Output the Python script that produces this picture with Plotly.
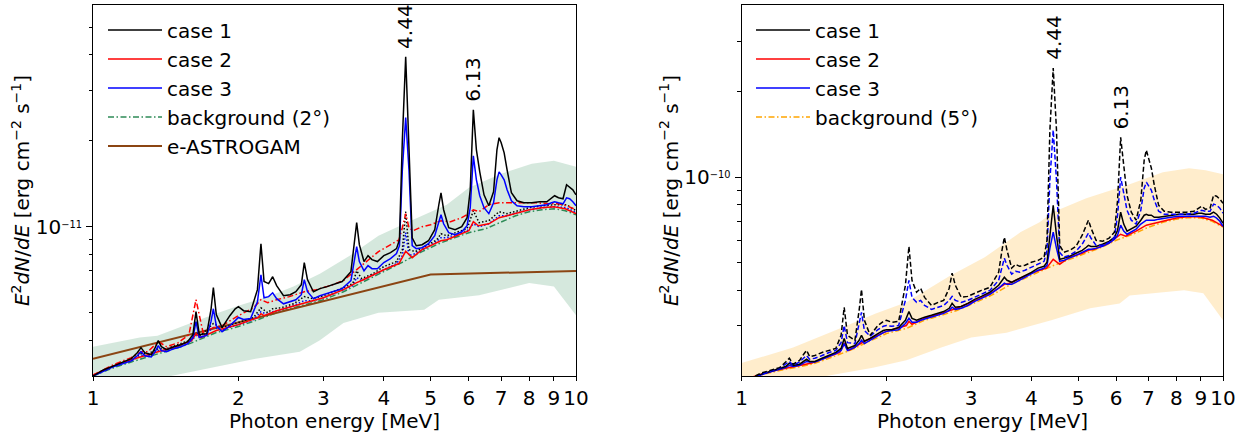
import numpy as np
import plotly.graph_objects as go

# ---------------- energies [MeV] ----------------
E_main = [1.0, 1.05, 1.1, 1.15, 1.2, 1.235, 1.257, 1.28, 1.32, 1.345,
          1.365, 1.385, 1.42, 1.47, 1.52, 1.57, 1.61, 1.634, 1.66, 1.72,
          1.755, 1.775, 1.8, 1.85, 1.92, 1.97, 2.0, 2.05, 2.12, 2.19,
          2.227, 2.26, 2.31, 2.355, 2.4, 2.48, 2.56, 2.63, 2.7, 2.738,
          2.78, 2.86, 2.95, 3.05, 3.15, 3.28, 3.42, 3.475, 3.515, 3.56,
          3.64, 3.71, 3.78, 3.88, 4.0, 4.13, 4.25, 4.31, 4.37, 4.44,
          4.51, 4.58, 4.67, 4.8, 4.95, 5.1, 5.2, 5.254, 5.32, 5.45,
          5.62, 5.8, 5.95, 6.04, 6.13, 6.22, 6.32, 6.45, 6.6, 6.75,
          6.86, 6.93, 7.0, 7.1, 7.2, 7.35, 7.55, 7.8, 8.1, 8.4,
          8.7, 8.9, 9.03, 9.2, 9.4, 9.56, 9.7, 9.85, 10.0]
E_bg = [1.0, 1.1, 1.2, 1.3, 1.4, 1.5, 1.6, 1.7, 1.8, 1.9, 2.0, 2.2, 2.4, 2.6, 2.8, 3.0,
        3.3, 3.6, 4.0, 4.4, 4.8, 5.2, 5.6, 6.0, 6.5, 7.0, 7.5, 8.0, 8.5, 9.0, 9.5, 10.0]
E_dot = [1.0, 1.1, 1.2, 1.257, 1.3, 1.365, 1.42, 1.5, 1.6, 1.634,
         1.67, 1.775, 1.85, 2.0, 2.15, 2.227, 2.3, 2.355, 2.45, 2.6,
         2.738, 2.85, 3.0, 3.3, 3.45, 3.515, 3.6, 3.8, 4.0, 4.25,
         4.37, 4.44, 4.51, 4.65, 4.9, 5.15, 5.254, 5.4, 5.7, 5.95,
         6.13, 6.3, 6.6, 6.93, 7.2, 7.6, 8.0, 8.5, 9.0, 9.56, 10.0]
E_red = [1.0, 1.1, 1.2, 1.3, 1.4, 1.5, 1.6, 1.634, 1.67, 1.8,
         2.0, 2.2, 2.227, 2.26, 2.4, 2.6, 2.8, 3.0, 3.3, 3.515,
         3.6, 4.0, 4.3, 4.44, 4.58, 4.8, 5.1, 5.25, 5.4, 5.8,
         6.0, 6.13, 6.28, 6.6, 6.93, 7.2, 7.5, 8.0, 8.5, 9.0, 9.5, 10.0]
E_red_hi = [1.0, 1.1, 1.2, 1.257, 1.3, 1.365, 1.42, 1.5, 1.58, 1.634,
            1.69, 1.775, 1.85, 2.0, 2.15, 2.227, 2.3, 2.4, 2.55, 2.738,
            2.9, 3.1, 3.3, 3.515, 3.7, 3.9, 4.1, 4.3, 4.37, 4.44,
            4.51, 4.6, 4.8, 5.0, 5.254, 5.5, 5.8, 6.0, 6.13, 6.3,
            6.6, 6.93, 7.3, 7.8, 8.3, 8.8, 9.2, 9.56, 10.0]
E_astro = [1.0, 5.0, 10.0]

# ---------------- left panel (units of 1e-12 erg cm^-2 s^-1) ----------------
L_case1 = [3.00, 3.15, 3.25, 3.36, 3.45, 3.62, 3.77, 3.62, 3.56, 3.77,
           3.99, 3.80, 3.71, 3.80, 3.86, 3.96, 4.19, 5.04, 4.19, 4.22,
           5.12, 6.12, 4.92, 4.43, 4.88, 5.16, 5.25, 5.08, 5.04, 6.02,
           8.72, 6.43, 6.32, 6.68, 6.22, 5.73, 5.78, 5.92, 6.27, 7.49,
           6.53, 5.92, 6.07, 6.17, 6.27, 6.43, 6.96, 8.79, 10.33, 8.65,
           7.55, 7.92, 7.67, 7.55, 7.92, 8.11, 8.38, 9.00, 20.16, 39.4,
           20.16, 9.15, 8.58, 8.65, 8.93, 9.76, 11.94, 13.15, 11.47, 9.92,
           9.76, 10.00, 10.76, 13.47, 25.67, 18.60, 15.57, 12.94, 11.85, 13.25,
           18.60, 20.5, 19.7, 18.15, 15.83, 13.15, 12.33, 12.13, 12.13, 12.23,
           12.23, 12.63, 12.84, 12.63, 12.53, 14.03, 13.80, 13.47, 12.94]
L_case3 = [3.00, 3.12, 3.23, 3.31, 3.39, 3.53, 3.65, 3.53, 3.50, 3.65,
           3.83, 3.68, 3.65, 3.74, 3.80, 3.89, 4.09, 4.65, 4.09, 4.16,
           4.65, 5.16, 4.50, 4.29, 4.50, 4.69, 4.81, 4.73, 4.77, 5.46,
           6.79, 5.64, 5.69, 5.87, 5.60, 5.37, 5.46, 5.55, 5.78, 6.53,
           5.92, 5.60, 5.73, 5.83, 5.92, 6.07, 6.48, 7.55, 8.51, 7.55,
           7.01, 7.31, 7.13, 7.13, 7.49, 7.73, 8.05, 8.58, 15.83, 24.1,
           15.83, 8.58, 8.38, 8.44, 8.72, 9.30, 10.41, 11.02, 10.24, 9.53,
           9.37, 9.60, 10.08, 11.66, 17.72, 14.60, 12.84, 11.66, 11.11, 12.13,
           14.60, 15.57, 15.20, 14.60, 13.47, 12.33, 11.85, 11.75, 11.75, 11.85,
           11.94, 12.13, 12.23, 12.13, 12.03, 12.63, 12.53, 12.23, 11.85]
L_case2 = [3.02, 3.25, 3.42, 3.56, 3.68, 3.83, 3.99, 4.22, 4.09, 4.33,
           4.54, 4.81, 4.96, 4.88, 5.08, 5.29, 5.46, 5.64, 6.02, 6.37,
           6.48, 7.07, 7.43, 8.20, 7.79, 8.31, 8.72, 8.93, 9.00, 9.45,
           9.68, 10.41, 10.08, 10.24, 10.76, 10.93, 11.11, 11.47, 11.66, 11.75,
           11.56, 11.11]
L_case2_alt = [3.02, 3.28, 3.48, 3.65, 3.65, 3.96, 3.80, 3.92, 4.19, 5.55,
               4.26, 4.43, 4.50, 4.88, 5.20, 5.55, 5.42, 5.55, 5.69, 5.92,
               6.02, 6.22, 6.48, 7.07, 7.55, 8.18, 8.58, 9.00, 9.92, 11.11,
               9.92, 9.68, 10.00, 10.16, 10.50, 10.41, 10.76, 11.11, 11.47, 11.29,
               11.94, 12.13, 12.13, 12.13, 12.13, 12.03, 12.03, 11.85, 11.47]
L_case1_alt = [3.00, 3.25, 3.42, 3.59, 3.59, 3.74, 3.74, 3.86, 4.02, 4.26,
               4.16, 4.58, 4.43, 4.62, 4.81, 5.20, 5.00, 5.16, 5.20, 5.37,
               5.69, 5.60, 5.73, 6.12, 6.32, 7.01, 6.58, 6.85, 7.25, 7.55,
               8.31, 11.29, 8.31, 8.18, 8.58, 9.00, 9.45, 9.30, 9.60, 9.84,
               11.38, 10.33, 10.50, 11.29, 11.11, 11.38, 11.66, 11.85, 11.94, 11.94,
               11.38]
L_case3_alt = [3.00, 3.23, 3.39, 3.53, 3.53, 3.68, 3.68, 3.83, 3.99, 4.16,
               4.09, 4.43, 4.36, 4.54, 4.73, 5.04, 4.92, 5.04, 5.12, 5.29,
               5.51, 5.51, 5.64, 6.02, 6.22, 6.63, 6.48, 6.77, 7.07, 7.43,
               7.92, 9.53, 7.92, 8.05, 8.44, 8.89, 9.15, 9.15, 9.45, 9.68,
               10.24, 10.00, 10.24, 10.93, 10.93, 11.20, 11.47, 11.66, 11.75, 11.66,
               11.20]
L_bg = [3.00, 3.20, 3.36, 3.50, 3.62, 3.77, 3.92, 4.09, 4.26, 4.36, 4.47, 4.73, 5.00, 5.20, 5.37, 5.55,
        5.92, 6.37, 6.96, 7.55, 8.18, 8.72, 9.15, 9.53, 9.84, 10.37, 10.93, 11.29, 11.47, 11.56, 11.38, 11.02]
L_astro = [3.45, 6.80, 7.00]
L_band_E_up = [1.0, 1.25, 1.36, 1.56, 1.77, 2.0, 2.3, 2.6, 2.95, 3.4, 3.9, 4.6, 5.4, 6.0, 7.0, 8.1, 9.0, 10.0]
L_band_up = [3.80, 4.09, 4.15, 4.54, 4.92, 5.29, 5.69, 6.17, 6.85, 7.92, 9.30, 10.58, 11.94, 13.69, 15.33, 16.62, 17.02, 16.22]
L_band_E_lo = [1.0, 1.2, 1.45, 1.75, 2.0, 2.17, 2.68, 2.95, 3.3, 3.9, 4.85, 5.2, 6.3, 8.0, 9.0, 10.0]
L_band_lo = [2.3, 2.6, 3.0, 3.2, 3.35, 3.45, 3.65, 4.0, 4.6, 5.0, 5.12, 5.55, 5.75, 6.35, 6.17, 4.9]

# ---------------- right panel (units of 1e-11 erg cm^-2 s^-1) ----------------
R_case1 = [1.91, 1.96, 2.03, 2.08, 2.13, 2.16, 2.22, 2.18, 2.20, 2.25,
           2.29, 2.25, 2.25, 2.31, 2.36, 2.42, 2.50, 2.71, 2.50, 2.56,
           2.67, 2.78, 2.65, 2.71, 2.82, 2.89, 2.91, 2.91, 2.96, 3.14,
           3.37, 3.19, 3.14, 3.19, 3.22, 3.27, 3.32, 3.37, 3.46, 3.60,
           3.49, 3.51, 3.60, 3.72, 3.81, 3.94, 4.17, 4.34, 4.45, 4.34,
           4.27, 4.34, 4.41, 4.52, 4.63, 4.79, 4.86, 5.02, 6.25, 7.97,
           6.25, 5.14, 5.19, 5.27, 5.40, 5.53, 5.67, 5.76, 5.71, 5.71,
           5.81, 5.95, 6.15, 6.51, 7.53, 6.84, 6.46, 6.57, 6.73, 7.06,
           7.35, 7.41, 7.35, 7.35, 7.23, 7.23, 7.29, 7.35, 7.41, 7.41,
           7.41, 7.47, 7.47, 7.41, 7.41, 7.53, 7.41, 7.18, 6.89]
R_case3 = [1.91, 1.96, 2.02, 2.07, 2.11, 2.14, 2.18, 2.16, 2.18, 2.22,
           2.25, 2.24, 2.24, 2.29, 2.34, 2.40, 2.46, 2.60, 2.46, 2.52,
           2.60, 2.67, 2.60, 2.67, 2.78, 2.84, 2.87, 2.89, 2.91, 3.06,
           3.19, 3.09, 3.09, 3.14, 3.17, 3.22, 3.27, 3.32, 3.40, 3.49,
           3.43, 3.46, 3.54, 3.66, 3.75, 3.87, 4.07, 4.17, 4.24, 4.20,
           4.20, 4.27, 4.34, 4.45, 4.56, 4.71, 4.79, 4.90, 5.62, 6.41,
           5.62, 5.06, 5.10, 5.19, 5.31, 5.44, 5.53, 5.58, 5.58, 5.62,
           5.71, 5.86, 6.05, 6.25, 6.78, 6.46, 6.30, 6.41, 6.57, 6.84,
           7.00, 7.06, 7.06, 7.06, 7.06, 7.12, 7.18, 7.23, 7.29, 7.29,
           7.29, 7.29, 7.29, 7.29, 7.23, 7.29, 7.18, 7.00, 6.72]
R_case1_alt = [1.91, 1.97, 2.05, 2.09, 2.14, 2.24, 2.31, 2.20, 2.27, 2.38,
               2.46, 2.34, 2.36, 2.42, 2.46, 2.50, 2.78, 3.49, 2.78, 2.67,
               3.40, 4.03, 3.14, 2.78, 3.01, 3.11, 3.14, 3.09, 3.11, 4.17,
               5.71, 4.34, 3.94, 4.07, 3.78, 3.54, 3.63, 3.69, 4.07, 4.60,
               4.17, 3.78, 3.81, 3.91, 4.00, 4.10, 4.63, 5.53, 6.15, 5.53,
               4.79, 4.94, 4.86, 4.90, 5.02, 5.10, 5.23, 6.00, 14.64, 24.2,
               14.64, 5.76, 5.44, 5.53, 5.71, 6.25, 6.84, 7.06, 6.62, 6.00,
               5.95, 6.10, 6.41, 8.30, 13.8, 11.02, 8.64, 7.53, 7.06, 8.30,
               11.48, 12.45, 11.67, 10.75, 9.37, 7.97, 7.59, 7.53, 7.53, 7.53,
               7.59, 7.78, 7.91, 7.71, 7.78, 8.64, 8.57, 8.37, 8.10]
R_case3_alt = [1.91, 1.97, 2.03, 2.08, 2.13, 2.20, 2.25, 2.18, 2.24, 2.31,
               2.36, 2.29, 2.31, 2.36, 2.42, 2.46, 2.62, 3.01, 2.62, 2.60,
               3.01, 3.35, 2.89, 2.76, 2.91, 2.99, 3.01, 2.99, 3.01, 3.69,
               4.34, 3.78, 3.63, 3.69, 3.54, 3.43, 3.49, 3.54, 3.69, 3.81,
               3.69, 3.63, 3.69, 3.78, 3.87, 4.00, 4.34, 4.86, 5.19, 4.90,
               4.56, 4.67, 4.63, 4.71, 4.83, 4.94, 5.06, 5.53, 9.76, 14.64,
               9.76, 5.44, 5.23, 5.31, 5.49, 5.81, 6.20, 6.36, 6.10, 5.76,
               5.76, 5.90, 6.15, 7.35, 10.00, 8.85, 7.65, 7.06, 6.84, 7.65,
               9.15, 9.60, 9.30, 9.00, 8.30, 7.59, 7.41, 7.41, 7.41, 7.41,
               7.47, 7.59, 7.65, 7.59, 7.59, 8.04, 7.97, 7.78, 7.47]
R_case2 = [1.93, 2.03, 2.11, 2.16, 2.22, 2.32, 2.42, 2.60, 2.46, 2.65,
           2.87, 3.01, 3.11, 3.04, 3.19, 3.32, 3.46, 3.63, 3.91, 4.20,
           4.24, 4.60, 4.79, 5.14, 4.94, 5.23, 5.40, 5.53, 5.58, 5.86,
           6.10, 6.30, 6.20, 6.46, 6.78, 6.89, 7.00, 7.18, 7.27, 7.24,
           7.06, 6.72]
R_bg = [1.91, 2.02, 2.09, 2.14, 2.20, 2.29, 2.38, 2.48, 2.60, 2.71, 2.82, 2.94, 3.14, 3.27, 3.40, 3.57,
        3.84, 4.17, 4.52, 4.86, 5.14, 5.40, 5.67, 6.00, 6.30, 6.67, 6.94, 7.12, 7.21, 7.18, 7.00, 6.67]
R_band_E_up = [1.0, 1.28, 1.6, 1.9, 2.2, 2.7, 3.2, 3.8, 4.16, 4.43, 5.2, 6.4, 7.5, 8.5, 9.2, 10.0]
R_band_up = [2.22, 2.52, 2.94, 3.32, 3.63, 4.48, 5.23, 6.41, 6.94, 7.53, 8.43, 9.44, 10.41, 10.75, 10.58, 10.24]
R_band_E_lo = [1.0, 1.2, 1.5, 1.875, 2.2, 2.6, 3.0, 3.55, 4.4, 5.3, 6.1, 6.4, 8.3, 9.1, 10.0]
R_band_lo = [1.65, 1.79, 2.00, 2.14, 2.27, 2.52, 2.73, 2.84, 3.14, 3.46, 3.60, 3.84, 4.00, 3.91, 3.14]

x_ticks = [1, 2, 3, 4, 5, 6, 7, 8, 9, 10]
x_ticktext = ["1", "2", "3", "4", "5", "6", "7", "8", "9", "10"]
line_labels = ["4.44", "6.13"]
line_energies = [4.44, 6.13]

SL, SR = 1e-12, 1e-11
FONT = "DejaVu Sans"
FS = 20
DASHDOT = "6px,2.5px,1.5px,2.5px"
DOT = "1.5px,2px"
DASH = "5px,2.5px"

fig = go.Figure()


def band(Eu, up, El, lo, scale, color, xa, ya):
    xs = list(Eu) + list(El)[::-1]
    ys = list(np.array(up) * scale) + list(np.array(lo)[::-1] * scale)
    fig.add_trace(go.Scatter(x=xs, y=ys, mode="lines", fill="toself", fillcolor=color,
                             line=dict(width=0), hoverinfo="skip", showlegend=False,
                             xaxis=xa, yaxis=ya))


def line(E, v, scale, color, dash="solid", width=1.5, name=None, legend="legend",
         rank=None, xa="x", ya="y"):
    fig.add_trace(go.Scatter(x=E, y=np.array(v) * scale, mode="lines",
                             line=dict(color=color, width=width, dash=dash),
                             name=name, showlegend=name is not None, legend=legend,
                             legendgroup=name, legendrank=rank if rank else 1000,
                             xaxis=xa, yaxis=ya))


# ---- left panel ----
band(L_band_E_up, L_band_up, L_band_E_lo, L_band_lo, SL, "rgba(46,139,87,0.2)", "x", "y")
line(E_bg, L_bg, SL, "#2e8b57", DASHDOT, 1.5, "background (2°)", "legend", 4)
line(E_astro, L_astro, SL, "#8b4513", "solid", 2, "e-ASTROGAM", "legend", 5)
line(E_dot, L_case3_alt, SL, "blue", DOT, 1.5)
line(E_dot, L_case1_alt, SL, "black", DOT, 1.5)
line(E_red, L_case2, SL, "red", "solid", 1.5, "case 2", "legend", 2)
line(E_red_hi, L_case2_alt, SL, "red", DASHDOT, 1.5)
line(E_main, L_case3, SL, "blue", "solid", 1.5, "case 3", "legend", 3)
line(E_main, L_case1, SL, "black", "solid", 1.5, "case 1", "legend", 1)

# ---- right panel ----
band(R_band_E_up, R_band_up, R_band_E_lo, R_band_lo, SR, "rgba(255,165,0,0.2)", "x2", "y2")
line(E_bg, R_bg, SR, "orange", DASHDOT, 1.5, "background (5°)", "legend2", 4, "x2", "y2")
line(E_red, R_case2, SR, "red", "solid", 1.5, "case 2", "legend2", 2, "x2", "y2")
line(E_main, R_case3, SR, "blue", "solid", 1.5, "case 3", "legend2", 3, "x2", "y2")
line(E_main, R_case1, SR, "black", "solid", 1.5, "case 1", "legend2", 1, "x2", "y2")
line(E_main, R_case3_alt, SR, "blue", DASH, 1.5, None, "legend2", None, "x2", "y2")
line(E_main, R_case1_alt, SR, "black", DASH, 1.5, None, "legend2", None, "x2", "y2")

# ---- annotations for the nuclear lines ----
ann = []
for lab, en in zip(line_labels, line_energies):
    i = E_main.index(en)
    ann.append(dict(x=np.log10(en), y=np.log10(L_case1[i] * SL), xref="x", yref="y",
                    text=lab, textangle=-90, showarrow=False, xanchor="center",
                    yanchor="bottom", yshift=6, font=dict(size=FS, family=FONT, color="black")))
    ann.append(dict(x=np.log10(en), y=np.log10(R_case1_alt[i] * SR), xref="x2", yref="y2",
                    text=lab, textangle=-90, showarrow=False, xanchor="center",
                    yanchor="bottom", yshift=6, font=dict(size=FS, family=FONT, color="black")))

# x-axis titles (placed as paper annotations for exact vertical position)
x_title = "Photon energy [MeV]"
dom1 = [93 / 1246, 576 / 1246]
dom2 = [741.5 / 1246, 1223 / 1246]
for d in (dom1, dom2):
    ann.append(dict(x=(d[0] + d[1]) / 2, y=-31 / 371, xref="paper", yref="paper",
                    text=x_title, showarrow=False, xanchor="center", yanchor="top",
                    font=dict(size=FS, family=FONT, color="black")))

ytitle = "<i>E</i><sup>2</sup><i>dN</i>/<i>dE</i> [erg cm<sup>−2</sup> s<sup>−1</sup>]"

common_x = dict(type="log", range=[0, 1], tickvals=x_ticks, ticktext=x_ticktext,
                ticks="outside", ticklen=4, tickwidth=1, tickcolor="black",
                showline=True, mirror=True, linecolor="black", linewidth=1,
                showgrid=False, zeroline=False, automargin=False,
                tickfont=dict(size=FS, family=FONT, color="black"))
common_y = dict(type="log", ticks="outside", ticklen=6, tickwidth=1, tickcolor="black",
                showline=True, mirror=True, linecolor="black", linewidth=1,
                showgrid=False, zeroline=False, automargin=False,
                tickfont=dict(size=FS, family=FONT, color="black"),
                title=dict(text=ytitle, standoff=0,
                           font=dict(size=FS, family=FONT, color="black")))

fig.update_layout(
    width=1246, height=433,
    margin=dict(l=0, r=0, t=5, b=57),
    paper_bgcolor="white", plot_bgcolor="white",
    font=dict(family=FONT, size=FS, color="black"),
    xaxis=dict(domain=dom1, anchor="y", **common_x),
    xaxis2=dict(domain=dom2, anchor="y2", **common_x),
    yaxis=dict(domain=[0, 1], anchor="x", range=[np.log10(3e-12), np.log10(5.98e-11)],
               tickvals=[1e-11],
               ticktext=["10<span style='font-size:14px'><sup>−11</sup></span>"],
               minor=dict(tickvals=[4e-12, 5e-12, 6e-12, 7e-12, 8e-12, 9e-12,
                                    2e-11, 3e-11, 4e-11, 5e-11],
                          ticks="outside", ticklen=3.5, tickwidth=1, tickcolor="black"),
               **common_y),
    yaxis2=dict(domain=[0, 1], anchor="x2", range=[np.log10(2e-11), np.log10(4.03e-10)],
                tickvals=[1e-10],
                ticktext=["10<span style='font-size:14px'><sup>−10</sup></span>"],
                minor=dict(tickvals=[3e-11, 4e-11, 5e-11, 6e-11, 7e-11, 8e-11, 9e-11,
                                     2e-10, 3e-10],
                           ticks="outside", ticklen=3.5, tickwidth=1, tickcolor="black"),
                **common_y),
    legend=dict(x=103 / 1246, y=0.985, xanchor="left", yanchor="top",
                bgcolor="rgba(0,0,0,0)", font=dict(size=FS, family=FONT),
                traceorder="grouped", tracegroupgap=0, itemwidth=54),
    legend2=dict(x=751 / 1246, y=0.985, xanchor="left", yanchor="top",
                 bgcolor="rgba(0,0,0,0)", font=dict(size=FS, family=FONT),
                 traceorder="grouped", tracegroupgap=0, itemwidth=54),
    annotations=ann,
    showlegend=True,
)

fig.write_html("out.html", config={"displayModeBar": False},
               post_script="document.body.style.margin='0px';")
